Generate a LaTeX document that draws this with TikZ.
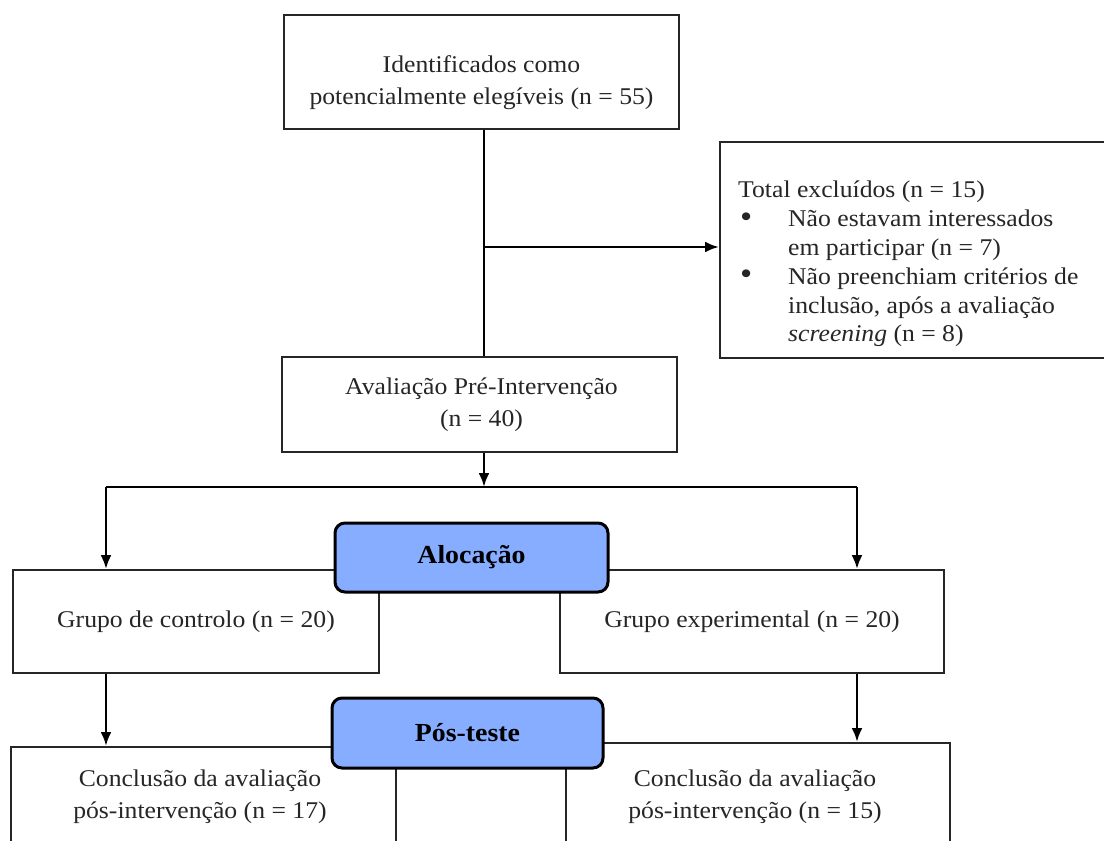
\documentclass[tikz,border=0pt]{standalone}
\usepackage{fontspec}
\setmainfont{Liberation Serif}[FakeStretch=1.07]
\usetikzlibrary{arrows.meta}
\definecolor{allocblue}{RGB}{134,173,255}
\newcommand{\bigbul}{\raisebox{-0.5pt}{\scalebox{1.35}{\textbullet}}}
\tikzset{
 box/.style={draw=black!85, line width=1.8pt, fill=white, inner sep=0pt},
 txt/.style={align=center, font=\fontsize{24}{32}\selectfont, inner sep=0pt, text=black!85},
 ltxt/.style={align=left, font=\fontsize{24}{28.8}\selectfont, inner sep=0pt, text=black!85},
 phase/.style={draw=black, line width=3pt, fill=allocblue, rounded corners=10pt, inner sep=0pt, font=\fontsize{26}{30}\selectfont\bfseries},
 conn/.style={line width=2.7pt},
 arr/.style={conn, -{Latex[length=14pt,width=11pt]}},
}
\begin{document}
\begin{tikzpicture}[x=1pt,y=-1pt]
\useasboundingbox (0,0) rectangle (1104,841);
\clip (0,0) rectangle (1104,841);
% boxes
\node[box, minimum width=395pt, minimum height=114pt] (b1) at (481.5,72) {};
\node[txt] (t1) at (481.5,83) {Identificados como\\potencialmente elegíveis (n = 55)};
\node[box, minimum width=395pt, minimum height=95pt] (b2) at (479.5,404.5) {};
\node[txt] (t2) at (481.5,405) {Avaliação Pré-Intervenção\\(n = 40)};
\node[box, minimum width=400pt, minimum height=216pt, anchor=north west] (b3) at (719,141) {};
\node[ltxt, anchor=north west] (t3) at (738,181) {Total excluídos (n = 15)\\
\makebox[50pt][l]{\hspace{2pt}\bigbul}Não estavam interessados\\
\hspace{50pt}em participar (n = 7)\\
\makebox[50pt][l]{\hspace{2pt}\bigbul}Não preenchiam critérios de\\
\hspace{50pt}inclusão, após a avaliação\\
\hspace{50pt}\textit{screening} (n = 8)};
% connectors top
\coordinate (j1) at (484,247);
\coordinate (sm) at (484,487);
\coordinate (sl) at (106,487);
\coordinate (sr) at (857,487);
\draw[conn] (b1.south -| j1) -- (b2.north -| j1);
\draw[arr] (j1) -- (j1 -| b3.west);
\draw[arr] (b2.south -| sm) -- (sm);
\draw[conn] (sl) -- (sr);
% group boxes
\node[box, txt, minimum width=366pt, minimum height=103pt] (g1) at (196,621.5) {Grupo de controlo (n = 20)};
\node[box, txt, minimum width=384pt, minimum height=103pt] (g2) at (752,621.5) {Grupo experimental (n = 20)};
\draw[arr] (sl) -- (sl |- g1.north);
\draw[arr] (sr) -- (sr |- g2.north);
% conclusion boxes
\node[box, minimum width=385pt, minimum height=120pt, anchor=north west] (c1) at (10,746) {};
\node[txt] (tc1) at (200,797) {Conclusão da avaliação\\pós-intervenção (n = 17)};
\node[box, minimum width=384pt, minimum height=120pt, anchor=north west] (c2) at (565,742) {};
\node[txt] (tc2) at (755,797) {Conclusão da avaliação\\pós-intervenção (n = 15)};
\draw[arr] (sl |- g1.south) -- (sl |- c1.north);
\draw[arr] (sr |- g2.south) -- (sr |- c2.north);
% phase labels
\node[phase, minimum width=273pt, minimum height=69pt] (alloc) at (471.5,557.5) {Alocação};
\node[phase, minimum width=271pt, minimum height=70pt] (post) at (467.5,733) {Pós-teste};
\end{tikzpicture}
\end{document}
